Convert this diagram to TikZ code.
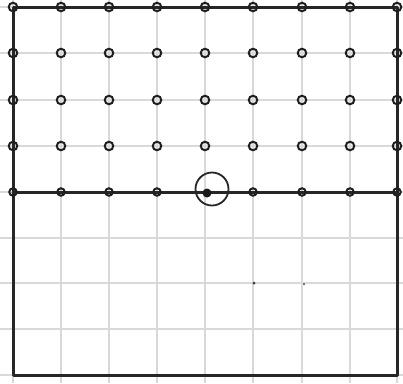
\documentclass[tikz,border=0pt]{standalone}
\begin{document}
\begin{tikzpicture}[x=1pt,y=-1pt,
  gridline/.style={line width=1.3pt,draw=black!15},
  frameline/.style={line width=3pt,draw=black!85,line cap=round,line join=round},
  pt/.style={circle,draw=black!88,line width=2pt,inner sep=0pt,minimum size=8.5pt},
  bigring/.style={circle,draw=black!85,line width=1.8pt,inner sep=0pt,minimum size=33pt},
  fdot/.style={circle,fill=black!90,inner sep=0pt,minimum size=9pt},
  speck/.style={circle,fill=black!80,inner sep=0pt,minimum size=3pt}]
\useasboundingbox[fill=white] (0,0) rectangle (403,383);
% grid paper
\foreach \x in {13,61,109,157,205,253,302,350,397}
  \draw[gridline] (\x,0) -- (\x,383);
\foreach \y in {7,53,100,146,192,238,283,329,375}
  \draw[gridline] (0,\y) -- (403,\y);
% frame
\coordinate (tl) at (13,7);
\coordinate (tr) at (397,7);
\coordinate (bl) at (13,375);
\coordinate (br) at (397,375);
\coordinate (ml) at (13,192);
\coordinate (mr) at (397,192);
\draw[frameline] (tl) -- (tr) -- (br) -- (bl) -- cycle;
\draw[frameline] (ml) -- (mr);
% points
\foreach \y [count=\j] in {7,53,100,146}
  \foreach \x [count=\i] in {13,61,109,157,205,253,302,350,397}
    \node[pt] (p\i-\j) at (\x,\y) {};
\foreach \x [count=\i] in {13,61,109,157,253,302,350,397}
  \node[pt,minimum size=7.5pt] (q\i) at (\x,192) {};
\node[bigring] (ring) at (212,189) {};
\node[fdot] (c) at (207,193) {};
% stray marks
\node[speck] (s1) at (254,283) {};
\node[speck,minimum size=2pt] (s2) at (304,284) {};
\end{tikzpicture}
\end{document}
